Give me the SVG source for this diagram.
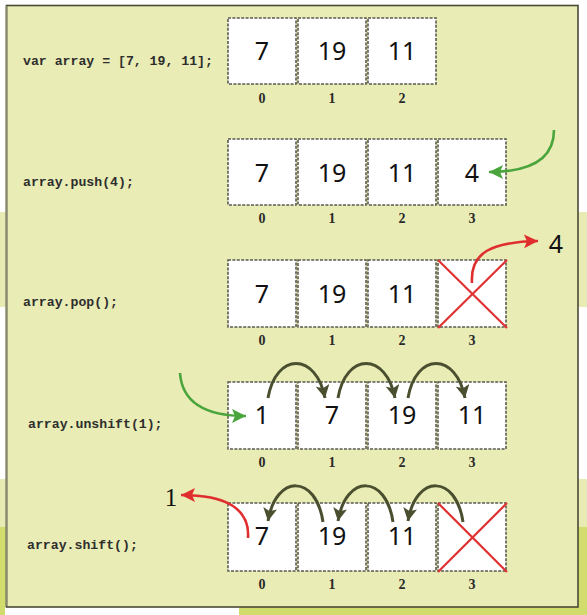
<svg xmlns="http://www.w3.org/2000/svg" width="587" height="615" viewBox="0 0 587 615">
<style>
.code{font-family:"Liberation Mono","Courier New",monospace;font-size:13.2px;font-weight:bold;fill:#2e2e2e}
.cell rect{fill:#fff;stroke:#5a5a52;stroke-width:1.6;stroke-dasharray:3 1.4}
.val{font-family:"Noto Sans","DejaVu Sans",sans-serif;font-size:25px;fill:#111;text-anchor:middle}
.idx{font-family:"Liberation Serif","Times New Roman",serif;font-size:14px;font-weight:bold;fill:#2a2a2a;text-anchor:middle}
.cross{stroke:#e03232;stroke-width:2.2}
.g{fill:none;stroke:#4aa53c;stroke-width:2.6}
.r{fill:none;stroke:#e02d2d;stroke-width:2.6}
.o{fill:none;stroke:#4a4f30;stroke-width:3}
</style>
<defs>
<marker id="mg" markerUnits="userSpaceOnUse" markerWidth="16" markerHeight="14" refX="14" refY="7" orient="auto"><path d="M0,0 L14,7 L0,14 L3,7 Z" fill="#4aa53c"/></marker>
<marker id="mr" markerUnits="userSpaceOnUse" markerWidth="16" markerHeight="14" refX="14" refY="7" orient="auto"><path d="M0,0 L14,7 L0,14 L3,7 Z" fill="#e02d2d"/></marker>
<marker id="mo" markerUnits="userSpaceOnUse" markerWidth="16" markerHeight="14" refX="13" refY="7" orient="auto"><path d="M0,0 L13,7 L0,14 L3,7 Z" fill="#4a4f30"/></marker>
</defs>
<!-- background -->
<rect x="0" y="0" width="587" height="615" fill="#fff"/>
<rect x="0" y="212" width="587" height="95" fill="#e8ebb4"/>
<rect x="0" y="479" width="587" height="48" fill="#e8ebb4"/>
<rect x="0" y="527" width="587" height="88" fill="#d1dc6c"/>
<rect x="0" y="607" width="239" height="8" fill="#fff"/>
<rect x="0" y="527" width="5" height="88" fill="#d1dc6c"/>
<!-- panel -->
<rect x="6.5" y="5.5" width="571.5" height="601.5" fill="#e9ecb5" stroke="#4a4a38" stroke-width="1.6"/>
<line x1="6.5" y1="6" x2="6.5" y2="606" stroke="#8a8a70" stroke-width="2"/>

<!-- row 1 -->
<g id="row1">
<text class="code" x="23" y="65">var array = [7, 19, 11];</text>
<g class="cell" id="r1c0"><rect x="228" y="18" width="68" height="66"/><text class="val" x="262" y="60">7</text><text class="idx" x="262" y="103">0</text></g>
<g class="cell" id="r1c1"><rect x="298" y="18" width="68" height="66"/><text class="val" x="332" y="60">19</text><text class="idx" x="332" y="103">1</text></g>
<g class="cell" id="r1c2"><rect x="368" y="18" width="68" height="66"/><text class="val" x="402" y="60">11</text><text class="idx" x="402" y="103">2</text></g>
</g>

<!-- row 2 -->
<g id="row2">
<text class="code" x="23" y="186">array.push(4);</text>
<g class="cell" id="r2c0"><rect x="228" y="139" width="68" height="66"/><text class="val" x="262" y="182">7</text><text class="idx" x="262" y="223">0</text></g>
<g class="cell" id="r2c1"><rect x="298" y="139" width="68" height="66"/><text class="val" x="332" y="182">19</text><text class="idx" x="332" y="223">1</text></g>
<g class="cell" id="r2c2"><rect x="368" y="139" width="68" height="66"/><text class="val" x="402" y="182">11</text><text class="idx" x="402" y="223">2</text></g>
<g class="cell" id="r2c3"><rect x="438" y="139" width="68" height="66"/><text class="val" x="472" y="182">4</text><text class="idx" x="472" y="223">3</text></g>
</g>

<!-- row 3 -->
<g id="row3">
<text class="code" x="23" y="306">array.pop();</text>
<g class="cell" id="r3c0"><rect x="228" y="260" width="68" height="67"/><text class="val" x="262" y="303">7</text><text class="idx" x="262" y="345">0</text></g>
<g class="cell" id="r3c1"><rect x="298" y="260" width="68" height="67"/><text class="val" x="332" y="303">19</text><text class="idx" x="332" y="345">1</text></g>
<g class="cell" id="r3c2"><rect x="368" y="260" width="68" height="67"/><text class="val" x="402" y="303">11</text><text class="idx" x="402" y="345">2</text></g>
<g class="cell" id="r3c3"><rect x="438" y="260" width="68" height="67"/><line class="cross" x1="438" y1="260" x2="507" y2="328"/><line class="cross" x1="507" y1="260" x2="438" y2="328"/><text class="idx" x="472" y="345">3</text></g>
<text id="popped" class="val" x="556" y="253">4</text>
</g>

<!-- row 4 -->
<g id="row4">
<text class="code" x="28" y="428">array.unshift(1);</text>
<g class="cell" id="r4c0"><rect x="228" y="382" width="68" height="67"/><text class="val" x="262" y="424">1</text><text class="idx" x="262" y="467">0</text></g>
<g class="cell" id="r4c1"><rect x="298" y="382" width="68" height="67"/><text class="val" x="332" y="424">7</text><text class="idx" x="332" y="467">1</text></g>
<g class="cell" id="r4c2"><rect x="368" y="382" width="68" height="67"/><text class="val" x="402" y="424">19</text><text class="idx" x="402" y="467">2</text></g>
<g class="cell" id="r4c3"><rect x="438" y="382" width="68" height="67"/><text class="val" x="472" y="424">11</text><text class="idx" x="472" y="467">3</text></g>
</g>

<!-- row 5 -->
<g id="row5">
<text class="code" x="27" y="549">array.shift();</text>
<g class="cell" id="r5c0"><rect x="228" y="503" width="68" height="68"/><text class="val" x="262" y="545">7</text><text class="idx" x="262" y="589">0</text></g>
<g class="cell" id="r5c1"><rect x="298" y="503" width="68" height="68"/><text class="val" x="332" y="545">19</text><text class="idx" x="332" y="589">1</text></g>
<g class="cell" id="r5c2"><rect x="368" y="503" width="68" height="68"/><text class="val" x="402" y="545">11</text><text class="idx" x="402" y="589">2</text></g>
<g class="cell" id="r5c3"><rect x="438" y="503" width="68" height="68"/><line class="cross" x1="438" y1="503" x2="507" y2="572"/><line class="cross" x1="507" y1="503" x2="438" y2="572"/><text class="idx" x="472" y="589">3</text></g>
<text id="shifted" x="171" y="506" font-family="Liberation Serif,Times New Roman,serif" font-size="25" fill="#111" text-anchor="middle">1</text>
</g>

<!-- connectors -->
<g id="connectors">
<path class="g" d="M554,130 C554,160 530,172 489,172" marker-end="url(#mg)"/>
<path class="r" d="M472,283 C470,252 492,242 538,241" marker-end="url(#mr)"/>
<path class="g" d="M180,373 C182,402 205,416 246,416" marker-end="url(#mg)"/>
<path class="o" d="M268,398 C276,352 316,352 325,398" marker-end="url(#mo)"/>
<path class="o" d="M338,398 C346,352 386,352 395,398" marker-end="url(#mo)"/>
<path class="o" d="M408,398 C416,352 456,352 465,398" marker-end="url(#mo)"/>
<path class="r" d="M248,538 C250,508 225,495 181,495" marker-end="url(#mr)"/>
<path class="o" d="M323,522 C316,474 276,474 268,521" marker-end="url(#mo)"/>
<path class="o" d="M393,522 C386,474 346,474 338,521" marker-end="url(#mo)"/>
<path class="o" d="M463,522 C456,474 416,474 408,521" marker-end="url(#mo)"/>
</g>
</svg>
